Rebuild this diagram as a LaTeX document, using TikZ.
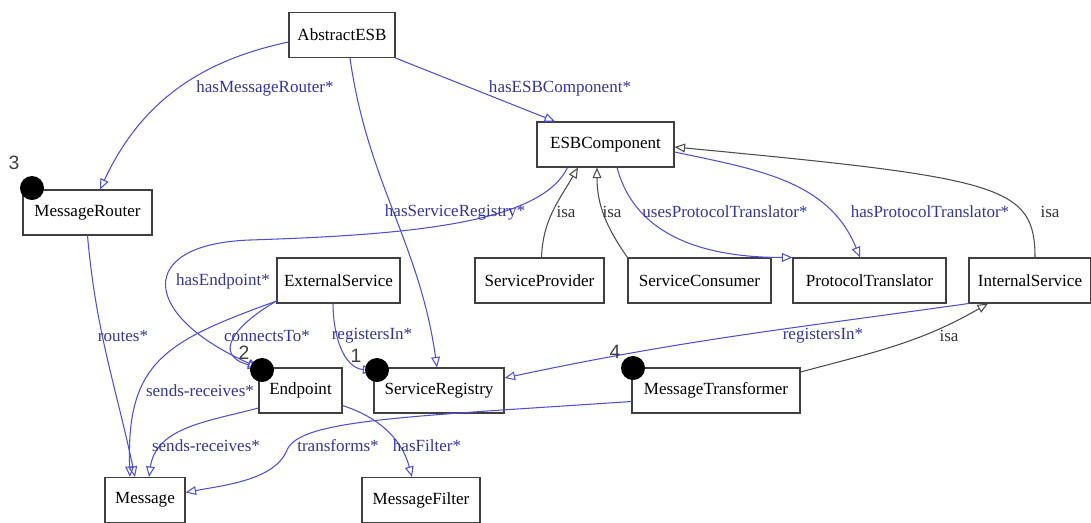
\documentclass[tikz,border=0pt]{standalone}
\usepackage{fontspec}
\setmainfont{Liberation Serif}
\setsansfont{Liberation Sans}
\usetikzlibrary{arrows.meta}
\definecolor{edgeblue}{RGB}{78,78,222}
\definecolor{lblblue}{RGB}{52,52,158}
\tikzset{
  cls/.style={draw=black!75, line width=0.6pt, minimum height=0.9cm, inner sep=0pt,
    font=\fontsize{9.7}{11}\selectfont},
  rel/.style={draw=edgeblue, line width=0.6pt, -{Triangle[open,length=6pt,width=5pt]}},
  isa/.style={draw=black!70, line width=0.6pt, -{Triangle[open,length=6pt,width=5pt]}},
  lbl/.style={text=lblblue, inner sep=0pt, font=\fontsize{9.7}{11}\selectfont},
  isalbl/.style={lbl, text=black!80},
  marker/.style={circle, fill=black, minimum size=0.48cm, inner sep=0pt},
  num/.style={text=black!75, inner sep=0pt, font=\sffamily\fontsize{11}{12}\selectfont}
}
\begin{document}
\begin{tikzpicture}
  \useasboundingbox (0,0) rectangle (21.82,-10.44);
  \node[cls, minimum width=2.12cm] (abstractESB) at (6.84,-0.70) {AbstractESB};
  \node[cls, minimum width=2.74cm] (esbComponent) at (12.11,-2.89) {ESBComponent};
  \node[cls, minimum width=2.58cm] (messageRouter) at (1.75,-4.25) {MessageRouter};
  \node[cls, minimum width=2.46cm] (externalService) at (6.77,-5.61) {ExternalService};
  \node[cls, minimum width=2.58cm] (serviceProvider) at (10.79,-5.61) {ServiceProvider};
  \node[cls, minimum width=2.86cm] (serviceConsumer) at (13.99,-5.61) {ServiceConsumer};
  \node[cls, minimum width=3.06cm] (protocolTranslator) at (17.39,-5.61) {ProtocolTranslator};
  \node[cls, minimum width=2.44cm] (internalService) at (20.60,-5.61) {InternalService};
  \node[cls, minimum width=1.66cm] (endpoint) at (6.01,-7.81) {Endpoint};
  \node[cls, minimum width=2.60cm] (serviceRegistry) at (8.78,-7.81) {ServiceRegistry};
  \node[cls, minimum width=3.36cm] (messageTransformer) at (14.32,-7.81) {MessageTransformer};
  \node[cls, minimum width=1.60cm] (message) at (2.90,-10.00) {Message};
  \node[cls, minimum width=2.36cm] (messageFilter) at (8.42,-10.00) {MessageFilter};

  \begin{scope}[rel]
    \draw ([yshift=-0.14cm]abstractESB.west) to[out=192,in=65] ([xshift=0.25cm]messageRouter.north);
    \draw (abstractESB.south east) -- ([xshift=-1.01cm]esbComponent.north);
    \draw ([xshift=0.16cm]abstractESB.south) to[out=-82,in=98] ([xshift=-0.04cm]serviceRegistry.north);
    \draw ([xshift=-0.76cm]esbComponent.south) .. controls (10.8,-4.5) and (8.0,-4.7) .. (5.0,-4.8)
      .. controls (2.7,-4.88) and (2.8,-6.3) .. (endpoint.north west);
    \draw ([xshift=0.23cm]esbComponent.south) to[out=-75,in=180] (protocolTranslator.north west);
    \draw ([yshift=-0.15cm]esbComponent.east) to[out=-12,in=112] ([xshift=-0.19cm]protocolTranslator.north);
    \draw (internalService.south west) to[out=188,in=12] ([yshift=0.25cm]serviceRegistry.east);
    \draw ([xshift=-0.11cm]externalService.south) to[out=-90,in=175] ([yshift=-0.06cm]serviceRegistry.north west);
    \draw ([yshift=0.05cm]externalService.south west) to[out=210,in=165,looseness=1.8] (endpoint.north west);
    \draw ([yshift=0.05cm]externalService.south west) to[out=200,in=92,looseness=1.3] ([xshift=-0.3cm]message.north);
    \draw (messageRouter.south) to[out=-85,in=102] ([xshift=-0.2cm]message.north);
    \draw ([yshift=-0.35cm]endpoint.west) to[out=195,in=82] ([xshift=0.08cm]message.north);
    \draw ([yshift=-0.22cm]messageTransformer.west) .. controls (8.0,-8.34) and (6.0,-8.4) .. (5.74,-9.0)
      .. controls (5.5,-9.6) and (4.5,-9.7) .. ([yshift=0.15cm]message.east);
    \draw ([yshift=-0.3cm]endpoint.east) to[out=-18,in=105] ([xshift=-0.18cm]messageFilter.north);
  \end{scope}
  \begin{scope}[isa]
    \draw ([xshift=0.04cm]serviceProvider.north) to[out=88,in=-120] ([xshift=-0.55cm]esbComponent.south);
    \draw (serviceConsumer.north west) to[out=125,in=-90] ([xshift=-0.17cm]esbComponent.south);
    \draw ([xshift=0.1cm]internalService.north) .. controls (20.7,-3.7) and (20.0,-3.56) .. ([yshift=-0.05cm]esbComponent.east);
    \draw ([yshift=0.37cm]messageTransformer.east) to[out=15,in=-150] ([xshift=-0.84cm]internalService.south);
  \end{scope}

  \node[lbl] (lRouter) at (5.30,-1.76) {hasMessageRouter*};
  \node[lbl] (lComponent) at (11.20,-1.76) {hasESBComponent*};
  \node[lbl] (lRegistry) at (9.10,-4.24) {hasServiceRegistry*};
  \node[isalbl] (lIsaSP) at (11.32,-4.24) {isa};
  \node[isalbl] (lIsaSC) at (12.24,-4.24) {isa};
  \node[lbl] (lUses) at (14.50,-4.24) {usesProtocolTranslator*};
  \node[lbl] (lHasPT) at (18.60,-4.24) {hasProtocolTranslator*};
  \node[isalbl] (lIsaIS) at (21.00,-4.24) {isa};
  \node[lbl] (lEndpoint) at (4.46,-5.62) {hasEndpoint*};
  \node[lbl] (lRoutes) at (2.46,-6.72) {routes*};
  \node[lbl] (lConnects) at (5.34,-6.72) {connectsTo*};
  \node[lbl] (lRegInExt) at (7.44,-6.72) {registersIn*};
  \node[lbl] (lRegInInt) at (16.46,-6.72) {registersIn*};
  \node[isalbl] (lIsaMT) at (18.98,-6.72) {isa};
  \node[lbl] (lSendsExt) at (4.00,-7.82) {sends-receives*};
  \node[lbl] (lSendsEnd) at (4.12,-8.92) {sends-receives*};
  \node[lbl] (lTransforms) at (6.76,-8.92) {transforms*};
  \node[lbl] (lFilter) at (8.54,-8.92) {hasFilter*};

  \node[marker] (dot3) at (0.64,-3.76) {};
  \node[marker] (dot2) at (5.24,-7.40) {};
  \node[marker] (dot1) at (7.54,-7.40) {};
  \node[marker] (dot4) at (12.66,-7.36) {};
  \node[num] (num3) at (0.28,-3.26) {3};
  \node[num] (num2) at (4.88,-7.06) {2};
  \node[num] (num1) at (7.12,-7.12) {1};
  \node[num] (num4) at (12.30,-7.04) {4};
\end{tikzpicture}
\end{document}
